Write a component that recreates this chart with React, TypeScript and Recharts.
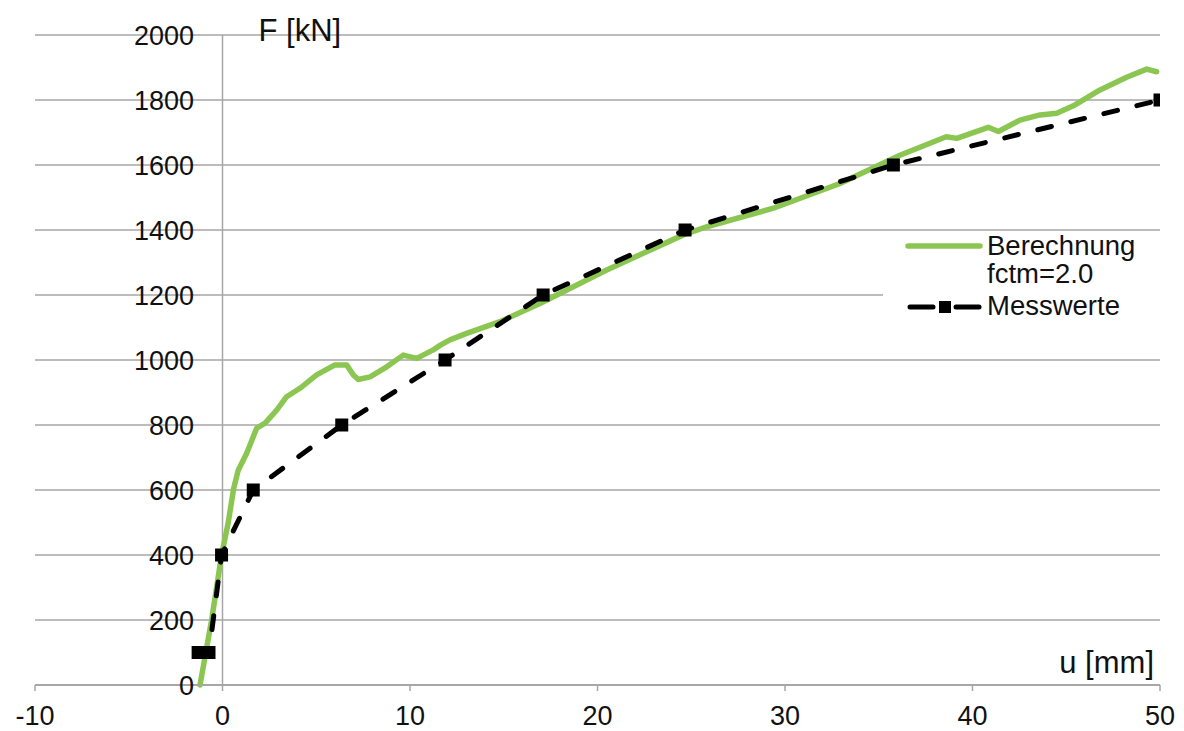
import {
  LineChart,
  Line,
  XAxis,
  YAxis,
  CartesianGrid,
  ReferenceLine,
  Legend,
} from "recharts";

// Berechnung fctm=2.0 (computed curve)
const calcU = [
  -1.2, -0.58, -0.05, 0.3, 0.6, 0.84, 1.29, 1.82, 2.27, 2.89, 3.42, 4.13, 5.02,
  6.0, 6.62, 6.98, 7.24, 7.87, 8.76, 9.64, 10.36, 11.24, 11.6, 12.13, 13.02,
  14.8, 16.93, 20.49, 24.58, 25.82, 29.38, 32.93, 36.13, 38.6, 39.16, 40.84,
  41.38, 42.53, 43.6, 44.49, 45.38, 46.8, 48.22, 49.29, 49.82,
];
const calcF = [
  0, 200, 400, 498, 606, 661, 713, 790, 806, 846, 887, 913, 954, 985, 985, 954,
  940, 948, 979, 1015, 1005, 1031, 1045, 1062, 1082, 1118, 1174, 1277, 1385,
  1410, 1467, 1543, 1630, 1687, 1682, 1716, 1703, 1738, 1754, 1759, 1782, 1831,
  1870, 1895, 1887,
];

// Messwerte (measured)
const measU = [-1.3, -0.72, -0.05, 1.64, 6.36, 11.87, 17.1, 24.67, 35.78, 50];
const measF = [100, 100, 400, 600, 800, 1000, 1200, 1400, 1600, 1800];

const xTicks = [-10, 0, 10, 20, 30, 40, 50];
const yTicks = [0, 200, 400, 600, 800, 1000, 1200, 1400, 1600, 1800, 2000];

const calcData = calcU.map((u, i) => ({ u, f: calcF[i] }));
const measData = measU.map((u, i) => ({ u, f: measF[i] }));

const FONT = "'Liberation Sans', Arial, sans-serif";
const GREEN = "#8cc652";
const GRID = "#a6a6a6";

const renderYTick = (props: any) => {
  const { x, y, payload, index } = props;
  return (
    <text
      key={index}
      x={Number(x) + 159}
      y={y}
      dy="0.36em"
      textAnchor="end"
      fontSize={27}
      fontFamily={FONT}
      fill="#111"
    >
      {payload.value}
    </text>
  );
};

const SquareDot = (props: any) => {
  const { cx, cy, index } = props;
  if (cx == null || cy == null) return <g key={index} />;
  return <rect key={index} x={cx - 6.5} y={cy - 6.5} width={13} height={13} fill="#000" />;
};

// legend box sits over the gridlines like in the original
const LegendBox = () => (
  <svg
    width={277}
    height={94}
    style={{ display: "block", background: "#fff", overflow: "visible" }}
  >
    <line x1={25} y1={14} x2={97} y2={14} stroke={GREEN} strokeWidth={5.5} strokeLinecap="round" />
    <text x={104} y={23} fontSize={27.5} fontFamily={FONT} fill="#111">
      Berechnung
    </text>
    <text x={104} y={51} fontSize={27.5} fontFamily={FONT} fill="#111">
      fctm=2.0
    </text>
    <line x1={27} y1={75} x2={50} y2={75} stroke="#000" strokeWidth={5} strokeLinecap="round" />
    <line x1={73} y1={75} x2={96} y2={75} stroke="#000" strokeWidth={5} strokeLinecap="round" />
    <rect x={56} y={69} width={12} height={12} fill="#000" />
    <text x={104} y={83} fontSize={27.5} fontFamily={FONT} fill="#111">
      Messwerte
    </text>
  </svg>
);

export default function App() {
  return (
    <div style={{ width: 1176, height: 723, fontFamily: FONT }}>
      <LineChart
        width={1176}
        height={723}
        margin={{ top: 27, right: 24, left: 0, bottom: 0 }}
      >
        <CartesianGrid vertical={false} stroke={GRID} strokeWidth={1.5} />
        <XAxis
          type="number"
          dataKey="u"
          domain={[-10, 50]}
          ticks={xTicks}
          height={46}
          allowDataOverflow
          stroke={GRID}
          axisLine={{ stroke: GRID, strokeWidth: 1.5 }}
          tickLine={{ stroke: GRID, strokeWidth: 1.5 }}
          tickSize={6}
          tickMargin={15}
          tick={{ fill: "#111", fontSize: 27, fontFamily: FONT }}
        />
        <YAxis
          type="number"
          domain={[0, 2000]}
          ticks={yTicks}
          width={27}
          axisLine={false}
          tickLine={false}
          tickSize={0}
          tickMargin={0}
          interval={0}
          tick={renderYTick}
        />
        <ReferenceLine
          x={0}
          stroke={GRID}
          strokeWidth={1.5}
          label={(p: any) => (
            <text
              x={p.viewBox.x + 36}
              y={p.viewBox.y + 6}
              fontSize={31}
              fontFamily={FONT}
              fill="#111"
            >
              F [kN]
            </text>
          )}
        />
        <ReferenceLine
          y={0}
          stroke={GRID}
          strokeWidth={1.5}
          label={(p: any) => (
            <text
              x={p.viewBox.x + p.viewBox.width - 6}
              y={p.viewBox.y - 12}
              textAnchor="end"
              fontSize={31}
              fontFamily={FONT}
              fill="#111"
            >
              u [mm]
            </text>
          )}
        />
        <Legend
          layout="vertical"
          align="center"
          verticalAlign="middle"
          wrapperStyle={{ left: 875, top: 224, width: 277, height: 94 }}
          content={() => <LegendBox />}
        />
        <Line
          data={calcData}
          dataKey="f"
          name="Berechnung fctm=2.0"
          type="linear"
          stroke={GREEN}
          strokeWidth={5.5}
          strokeLinecap="round"
          strokeLinejoin="round"
          dot={false}
          isAnimationActive={false}
        />
        <Line
          data={measData}
          dataKey="f"
          name="Messwerte"
          type="linear"
          stroke="#000"
          strokeWidth={5}
          strokeDasharray="14 20"
          strokeLinecap="round"
          dot={<SquareDot />}
          isAnimationActive={false}
        />
      </LineChart>
    </div>
  );
}
